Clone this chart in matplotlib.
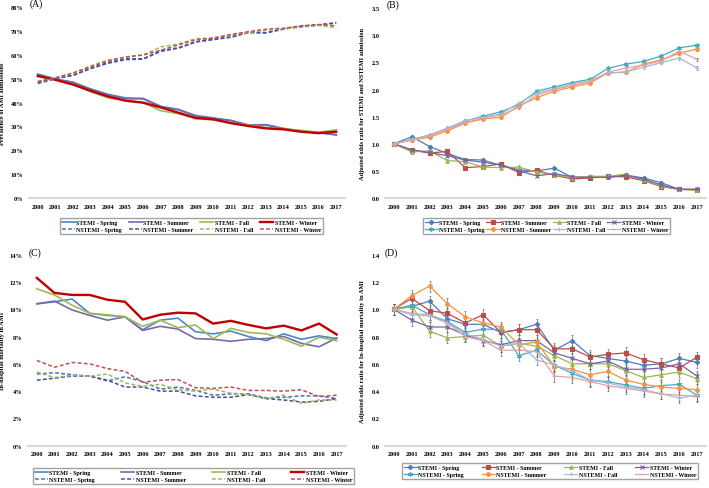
import matplotlib
matplotlib.use('Agg')
import matplotlib.pyplot as plt

plt.rcParams['font.family'] = ['Liberation Serif', 'DejaVu Serif']

years = [str(y) for y in range(2000, 2018)]
seasons = ['Spring', 'Summer', 'Fall', 'Winter']

# ---- Panel A: prevalence of AMI admissions (%)
a_stemi_spring = [52.0, 50.0, 48.5, 45.8, 43.5, 42.0, 41.8, 38.5, 37.2, 34.6, 33.6, 32.6, 30.6, 30.8, 29.2, 28.0, 27.4, 26.4]
a_stemi_summer = [51.5, 49.8, 48.6, 45.6, 43.2, 41.6, 41.6, 38.2, 37.0, 34.4, 33.4, 32.4, 30.6, 30.6, 29.0, 28.0, 27.4, 26.6]
a_stemi_fall = [51.0, 49.6, 47.6, 44.6, 42.0, 41.0, 40.0, 36.6, 35.4, 33.2, 32.8, 31.6, 30.6, 29.6, 29.0, 28.4, 27.6, 28.6]
a_stemi_winter = [51.2, 49.6, 47.6, 45.0, 42.6, 40.8, 40.0, 38.0, 35.8, 33.6, 33.0, 31.4, 30.2, 29.2, 28.8, 27.8, 27.2, 27.8]
a_nstemi_spring = [48.0, 50.0, 51.5, 54.2, 56.5, 58.0, 58.2, 61.5, 62.8, 65.4, 66.4, 67.4, 69.4, 69.2, 70.8, 72.0, 72.6, 73.6]
a_nstemi_summer = [48.5, 50.2, 51.4, 54.4, 56.8, 58.4, 58.4, 61.8, 63.0, 65.6, 66.6, 67.6, 69.4, 69.4, 71.0, 72.0, 72.6, 73.4]
a_nstemi_fall = [49.0, 50.4, 52.4, 55.4, 58.0, 59.0, 60.0, 63.4, 64.6, 66.8, 67.2, 68.4, 69.4, 70.4, 71.0, 71.6, 72.4, 71.4]
a_nstemi_winter = [48.8, 50.4, 52.4, 55.0, 57.4, 59.2, 60.0, 62.0, 64.2, 66.4, 67.0, 68.6, 69.8, 70.8, 71.2, 72.2, 72.8, 72.2]

# ---- Panel B: adjusted odds ratio for STEMI and NSTEMI admission
b_stemi_spring = [1.0, 1.13, 0.95, 0.82, 0.71, 0.70, 0.60, 0.52, 0.50, 0.55, 0.38, 0.38, 0.38, 0.42, 0.37, 0.28, 0.16, 0.16]
b_stemi_summer = [1.0, 0.88, 0.83, 0.86, 0.56, 0.58, 0.63, 0.47, 0.51, 0.42, 0.35, 0.37, 0.40, 0.39, 0.32, 0.21, 0.16, 0.15]
b_stemi_fall = [1.0, 0.85, 0.87, 0.69, 0.67, 0.57, 0.56, 0.57, 0.48, 0.43, 0.37, 0.40, 0.40, 0.44, 0.33, 0.22, 0.16, 0.14]
b_stemi_winter = [1.0, 0.89, 0.84, 0.78, 0.70, 0.66, 0.61, 0.50, 0.41, 0.45, 0.39, 0.38, 0.38, 0.42, 0.35, 0.24, 0.16, 0.16]
b_nstemi_spring = [1.0, 1.08, 1.16, 1.28, 1.42, 1.51, 1.59, 1.72, 1.97, 2.05, 2.13, 2.19, 2.39, 2.47, 2.52, 2.62, 2.77, 2.82]
b_nstemi_summer = [1.0, 1.07, 1.12, 1.24, 1.38, 1.46, 1.49, 1.70, 1.85, 1.97, 2.05, 2.12, 2.31, 2.32, 2.47, 2.55, 2.67, 2.75]
b_nstemi_fall = [1.0, 1.08, 1.16, 1.29, 1.43, 1.49, 1.55, 1.75, 1.93, 2.02, 2.10, 2.17, 2.30, 2.33, 2.41, 2.50, 2.58, 2.40]
b_nstemi_winter = [1.0, 1.07, 1.15, 1.27, 1.39, 1.48, 1.53, 1.67, 1.90, 2.00, 2.08, 2.15, 2.32, 2.40, 2.45, 2.53, 2.71, 2.56]
b_err = 0.03

# ---- Panel C: in-hospital mortality (%)
c_stemi_spring = [10.4, 10.55, 10.75, 9.7, 9.55, 9.45, 8.5, 9.2, 9.35, 8.35, 8.2, 8.4, 8.0, 7.7, 8.2, 7.8, 8.05, 7.85]
c_stemi_summer = [10.4, 10.6, 9.95, 9.55, 9.2, 9.45, 8.45, 8.75, 8.55, 7.85, 7.8, 7.65, 7.8, 7.85, 8.0, 7.5, 7.25, 7.9]
c_stemi_fall = [11.5, 11.05, 10.3, 9.7, 9.6, 9.45, 8.75, 9.2, 8.65, 8.85, 7.85, 8.6, 8.3, 8.2, 7.8, 7.3, 7.95, 7.7]
c_stemi_winter = [12.3, 11.2, 11.05, 11.05, 10.7, 10.55, 9.25, 9.6, 9.75, 9.7, 8.95, 9.15, 8.85, 8.6, 8.8, 8.45, 8.95, 8.15]
c_nstemi_spring = [5.25, 5.35, 5.2, 5.1, 4.75, 5.05, 4.7, 4.15, 4.3, 4.05, 3.7, 3.8, 3.8, 3.5, 3.55, 3.65, 3.65, 3.45]
c_nstemi_summer = [4.8, 4.95, 5.1, 5.1, 4.8, 4.3, 4.3, 4.0, 4.0, 3.65, 3.55, 3.55, 3.75, 3.45, 3.35, 3.2, 3.25, 3.45]
c_nstemi_fall = [5.4, 5.0, 5.15, 5.1, 5.25, 4.6, 4.35, 4.5, 4.1, 4.0, 4.15, 3.85, 3.75, 3.45, 3.7, 3.1, 3.35, 3.35]
c_nstemi_winter = [6.25, 5.75, 6.1, 6.0, 5.65, 5.45, 4.65, 4.8, 4.85, 4.25, 4.2, 4.3, 4.05, 4.05, 4.0, 4.1, 3.6, 3.7]

# ---- Panel D: adjusted odds ratio for in-hospital mortality
d_stemi_spring = [1.0, 1.02, 1.06, 0.93, 0.89, 0.89, 0.83, 0.85, 0.89, 0.70, 0.77, 0.66, 0.64, 0.62, 0.59, 0.60, 0.64, 0.61]
d_stemi_summer = [1.0, 1.08, 0.99, 0.97, 0.90, 0.96, 0.83, 0.85, 0.85, 0.71, 0.71, 0.65, 0.67, 0.68, 0.63, 0.60, 0.57, 0.65]
d_stemi_fall = [1.0, 1.02, 0.84, 0.79, 0.80, 0.81, 0.73, 0.75, 0.73, 0.66, 0.60, 0.60, 0.60, 0.55, 0.50, 0.52, 0.54, 0.49]
d_stemi_winter = [1.0, 0.92, 0.87, 0.87, 0.81, 0.77, 0.74, 0.77, 0.77, 0.68, 0.64, 0.60, 0.62, 0.56, 0.56, 0.57, 0.60, 0.51]
d_nstemi_spring = [1.0, 1.03, 0.96, 0.91, 0.83, 0.855, 0.85, 0.66, 0.70, 0.59, 0.53, 0.48, 0.47, 0.445, 0.42, 0.44, 0.45, 0.37]
d_nstemi_summer = [1.0, 1.10, 1.17, 1.04, 0.945, 0.90, 0.87, 0.74, 0.76, 0.58, 0.56, 0.52, 0.545, 0.48, 0.45, 0.43, 0.42, 0.41]
d_nstemi_fall = [1.0, 0.96, 0.95, 0.90, 0.82, 0.78, 0.73, 0.75, 0.63, 0.59, 0.55, 0.48, 0.46, 0.43, 0.41, 0.38, 0.35, 0.37]
d_nstemi_winter = [1.0, 0.97, 0.96, 0.90, 0.80, 0.77, 0.70, 0.70, 0.69, 0.51, 0.50, 0.47, 0.44, 0.42, 0.40, 0.38, 0.37, 0.36]
d_err = 0.04

W, H = 709, 489
fig = plt.figure(figsize=(W / 100, H / 100), dpi=100)


def add_ax(l, r, top, bot):
    return fig.add_axes([l / W, 1 - bot / H, (r - l) / W, (bot - top) / H])


FS = 4.6
LFS = 4.3
x = list(range(len(years)))


def style(ax, ylim, yticks, fmt, ylabel, lx):
    ax.set_xlim(-0.5, len(years) - 0.5)
    ax.set_ylim(*ylim)
    ax.set_xticks(x)
    ax.set_xticklabels(years, fontsize=FS, fontweight='bold')
    ax.set_yticks(yticks)
    ax.set_yticklabels([fmt(v) for v in yticks], fontsize=FS, fontweight='bold')
    for s in ['top', 'right', 'left']:
        ax.spines[s].set_visible(False)
    ax.spines['bottom'].set_color('#D9D9D9')
    ax.spines['bottom'].set_linewidth(1.5)
    ax.tick_params(length=0, pad=4)
    ax.set_ylabel(ylabel, fontsize=FS, fontweight='bold')
    ax.yaxis.set_label_coords(lx, 0.5)


def legend(handles, labels, l, r, top, bot):
    # reorder so that the 4-column legend reads row-wise
    order = [0, 4, 1, 5, 2, 6, 3, 7]
    fig.legend([handles[i] for i in order], [labels[i] for i in order],
               loc='center', bbox_to_anchor=(l / W, 1 - bot / H, (r - l) / W, (bot - top) / H),
               mode='expand', ncol=4, frameon=True, fancybox=False,
               edgecolor='#8C8C8C', borderpad=0.3, handlelength=2.2, handletextpad=0.25,
               labelspacing=0.3, borderaxespad=0, columnspacing=0.5,
               prop={'weight': 'bold', 'size': LFS})


labels = ['STEMI - ' + s for s in seasons] + ['NSTEMI - ' + s for s in seasons]

# ---------- Panel A ----------
colA = ['#4F86C6', '#7A67AA', '#9BBB59', '#C00000']
colAd = ['#4472C4', '#4A4A9E', '#9BBB59', '#C0504D']
axA = add_ax(29, 345, 8.3, 199)
hA = []
for ys, c, lw in zip([a_stemi_spring, a_stemi_summer, a_stemi_fall, a_stemi_winter], colA, [1.2, 1.2, 1.2, 1.7]):
    hA += axA.plot(x, ys, color=c, lw=lw)
for ys, c in zip([a_nstemi_spring, a_nstemi_summer, a_nstemi_fall, a_nstemi_winter], colAd):
    hA += axA.plot(x, ys, color=c, lw=1.1, ls=(0, (2.5, 1.5)))
style(axA, (0, 80), list(range(0, 81, 10)), lambda v: f'{v}%', 'Prevalence of AMI admissions', -0.076)
legend(hA, labels, 60, 323, 216, 238)
fig.text(30 / W, 1 - 4.5 / H, '(A)', fontsize=7, va='center', ha='left')

# ---------- Panel B ----------
colB = ['#4A7EBB', '#BE4B48', '#98B954', '#7D60A0', '#46AAC5', '#F69240', '#A5B8DC', '#E3A3A2']
mk = ['D', 's', '^', 'x', (6, 2, 0), 'o', '+', '_']
ms = [2.3, 2.6, 2.6, 3.0, 3.2, 2.6, 3.2, 3.2]


def marker_panel(ax, series, err):
    hs = []
    for ys, c, m, s in zip(series, colB, mk, ms):
        ax.errorbar(x, ys, yerr=err, fmt='none', ecolor='#6E6E6E', elinewidth=0.5, capsize=1.0, capthick=0.5, zorder=1)
        h, = ax.plot(x, ys, color=c, lw=0.9, marker=m, markersize=s, markeredgewidth=0.8, zorder=2)
        hs.append(h)
    return hs


axB = add_ax(385, 706, 9.3, 199)
hB = marker_panel(axB, [b_stemi_spring, b_stemi_summer, b_stemi_fall, b_stemi_winter,
                        b_nstemi_spring, b_nstemi_summer, b_nstemi_fall, b_nstemi_winter], b_err)
style(axB, (0, 3.5), [0, 0.5, 1.0, 1.5, 2.0, 2.5, 3.0, 3.5], lambda v: f'{v:.1f}',
      'Adjusted odds ratio for STEMI and NSTEMI admission', -0.062)
legend(hB, labels, 423, 670, 216, 238)
fig.text(387 / W, 1 - 5 / H, '(B)', fontsize=7, va='center', ha='left')

# ---------- Panel C ----------
axC = add_ax(28, 345.5, 255.7, 446.7)
hC = []
for ys, c, lw in zip([c_stemi_spring, c_stemi_summer, c_stemi_fall, c_stemi_winter], colA, [1.2, 1.2, 1.2, 1.7]):
    hC += axC.plot(x, ys, color=c, lw=lw)
for ys, c in zip([c_nstemi_spring, c_nstemi_summer, c_nstemi_fall, c_nstemi_winter], colAd):
    hC += axC.plot(x, ys, color=c, lw=1.1, ls=(0, (2.5, 1.5)))
style(axC, (0, 14), list(range(0, 15, 2)), lambda v: f'{v}%', 'In-hospital mortality in AMI', -0.073)
legend(hC, labels, 33, 354, 466.7, 486.7)
fig.text(29 / W, 1 - 253.5 / H, '(C)', fontsize=7, va='center', ha='left')

# ---------- Panel D ----------
axD = add_ax(385, 706, 255.7, 446.7)
hD = marker_panel(axD, [d_stemi_spring, d_stemi_summer, d_stemi_fall, d_stemi_winter,
                        d_nstemi_spring, d_nstemi_summer, d_nstemi_fall, d_nstemi_winter], d_err)
style(axD, (0, 1.4), [0, 0.2, 0.4, 0.6, 0.8, 1.0, 1.2, 1.4], lambda v: f'{v:.1f}',
      'Adjusted odds ratio for In-hospital mortality in AMI', -0.062)
legend(hD, labels, 402, 698, 460.7, 482.7)
fig.text(385 / W, 1 - 253.5 / H, '(D)', fontsize=7, va='center', ha='left')

fig.savefig('out.png', dpi=100)
